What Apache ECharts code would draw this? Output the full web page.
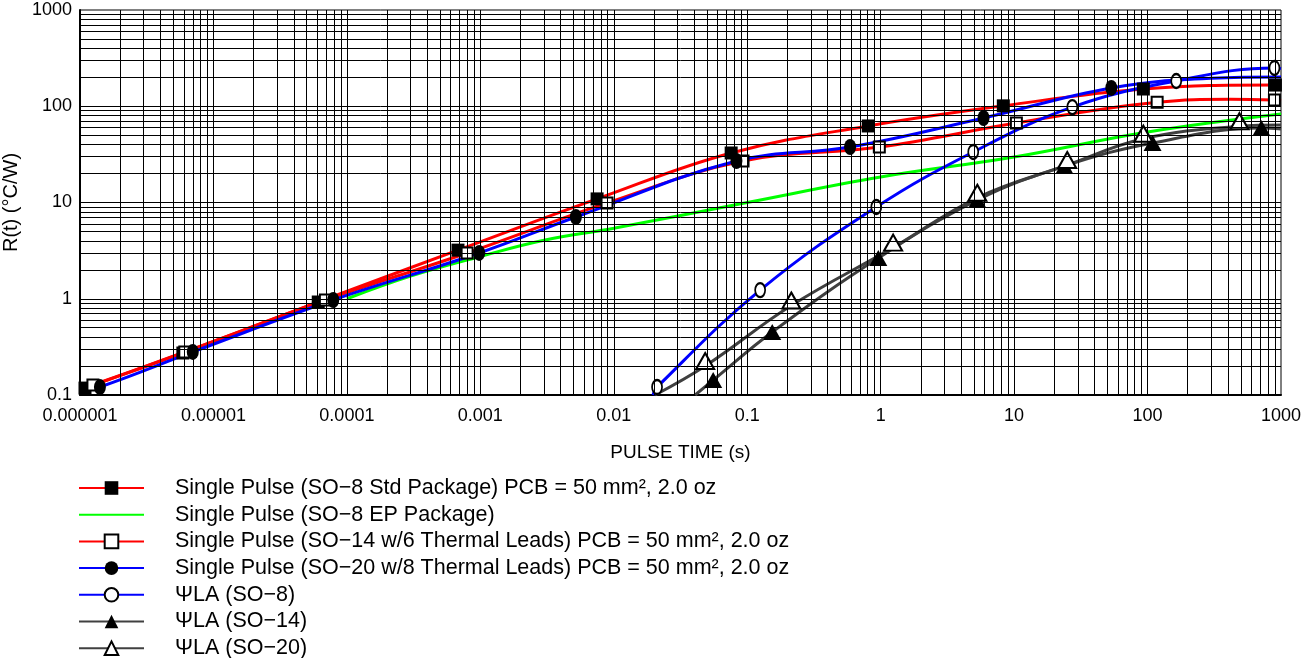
<!DOCTYPE html>
<html>
<head>
<meta charset="utf-8">
<script src="https://cdn.jsdelivr.net/npm/echarts@6/dist/echarts.min.js"></script>
<style>
html,body{margin:0;padding:0;background:#fff;}
#chart{width:1315px;height:658px;}
</style>
</head>
<body>
<div id="chart"></div>
<script>
// ---- tick labels ----
const xTickLabels = ['0.000001','0.00001','0.0001','0.001','0.01','0.1','1','10','100','1000'];
const yTickLabels = ['0.1','1','10','100','1000'];

// ---- series names ----
const seriesNames = [
  'Single Pulse (SO\u22128 Std Package) PCB = 50 mm\u00B2, 2.0 oz',
  'Single Pulse (SO\u22128 EP Package)',
  'Single Pulse (SO\u221214 w/6 Thermal Leads) PCB = 50 mm\u00B2, 2.0 oz',
  'Single Pulse (SO\u221220 w/8 Thermal Leads) PCB = 50 mm\u00B2, 2.0 oz',
  '\u03A8LA (SO\u22128)',
  '\u03A8LA (SO\u221214)',
  '\u03A8LA (SO\u221220)'
];

// ---- values: [pulse time (s), R(t) (°C/W)] ----
// marker points
const so8Std = [[1.09e-6,0.118],[5.9e-6,0.273],[6.1e-5,0.925],[6.8e-4,3.2],[7.5e-3,10.9],[0.0758,32.7],[0.807,62.4],[8.3,101],[93,151],[908,166]];
const so8StdLine = [[1e-6,0.113],[1000,166]];           // curve ends (no marker)

const so8Ep = [[1e-4,1.0],[3e-4,1.72],[1e-3,2.75],[3e-3,4.05],[0.01,5.4],[0.1,10],[1,18.4],[10,29.7],[100,54],[1000,83]];

const so14 = [[1.25e-6,0.127],[6.1e-6,0.28],[6.9e-5,0.97],[7.96e-4,2.99],[8.9e-3,9.9],[0.093,27],[0.977,37.7],[10.4,67],[118,110],[893,116]];
const so14Line = [[1e-6,0.115],[418,118],[1000,114]];

const so20 = [[1.41e-6,0.121],[7.0e-6,0.28],[7.9e-5,0.97],[9.8e-4,2.99],[5.2e-3,7.07],[0.083,27],[0.59,37.7],[5.9,75.5],[53.5,155]];
const so20Line = [[1e-6,0.111],[300,195],[1000,201]];

const psi8 = [[0.0211,0.121],[0.125,1.23],[0.927,8.98],[4.94,33.5],[27.3,98],[164,183],[893,250]];
const psi8Line = [[0.0197,0.1],[1000,246]];

const psi14 = [[0.0556,0.143],[0.154,0.452],[0.96,2.65],[5.3,10.6],[23.8,23.9],[109,41.5],[713,59.4]];
const psi14Line = [[0.0407,0.1],[1000,58]];

const psi20 = [[0.0484,0.2],[0.214,0.85],[1.24,3.4],[5.3,11.2],[25,24.5],[93,46],[488,62]];
const psi20Line = [[0.0204,0.1],[1000,64]];

// grid line positions (log decades with 2..9 subdivisions)
const xDecades = [-6,-5,-4,-3,-2,-1,0,1,2];
const yDecades = [-1,0,1,2];
const subdivisions = [1,2,3,4,5,6,7,8,9];

// ---- build ----
const FONT = '"Liberation Sans", Arial, Helvetica, sans-serif';

function buildData(marks, lineOnly) {
  const pts = marks.map(p => ({ value: p }));
  (lineOnly || []).forEach(p => pts.push({ value: p, symbol: 'none' }));
  pts.sort((a, b) => a.value[0] - b.value[0]);
  return pts;
}

const gridLineData = [];
xDecades.forEach(d => subdivisions.forEach(m => {
  const v = Number((m * Math.pow(10, d)).toPrecision(6));
  if (!(d === -6 && m === 1)) gridLineData.push({ xAxis: v });
}));
yDecades.forEach(d => subdivisions.forEach(m => {
  const v = Number((m * Math.pow(10, d)).toPrecision(6));
  if (!(d === -1 && m === 1)) gridLineData.push({ yAxis: v });
}));

function lineSeries(name, data, color, symbol, symbolSize, fill, extra) {
  let itemStyle;
  if (fill === 'open') itemStyle = { color: '#fff', borderColor: '#000', borderWidth: 2 };
  else if (fill === 'none') itemStyle = { color: 'rgba(0,0,0,0)', borderWidth: 0 };
  else itemStyle = { color: '#000', borderColor: '#000', borderWidth: 0 };
  return Object.assign({
    name: name,
    type: 'line',
    data: data,
    smooth: 0.4,
    symbol: symbol,
    symbolSize: symbolSize,
    showAllSymbol: true,
    clip: true,
    z: 3,
    lineStyle: { color: color, width: 3 },
    itemStyle: itemStyle,
    emphasis: { disabled: true }
  }, extra || {});
}

const series = [
  {
    name: 'grid', type: 'line', data: [], silent: true, z: 1,
    markLine: {
      silent: true, animation: false, symbol: ['none', 'none'], precision: 12,
      label: { show: false },
      lineStyle: { color: '#000', width: 1, type: 'solid', opacity: 1 },
      emphasis: { disabled: true },
      data: gridLineData
    }
  },
  lineSeries(seriesNames[1], buildData(so8Ep), '#00ff00', 'circle', 1, 'none', { showSymbol: false }),
  lineSeries(seriesNames[0], buildData(so8Std, so8StdLine), '#ff0000', 'rect', 13, 'filled'),
  lineSeries(seriesNames[2], buildData(so14, so14Line), '#ff0000', 'rect', 11, 'open'),
  lineSeries(seriesNames[3], buildData(so20, so20Line), '#0000ff', 'circle', [12, 16], 'filled'),
  lineSeries(seriesNames[4], buildData(psi8, psi8Line), '#0000ff', 'circle', [10, 14], 'open'),
  lineSeries(seriesNames[5], buildData(psi14, psi14Line), '#404040', 'triangle', [18, 16], 'filled'),
  lineSeries(seriesNames[6], buildData(psi20, psi20Line), '#404040', 'triangle', [18, 16], 'open', { symbolOffset: [0, -5] })
];

const chart = echarts.init(document.getElementById('chart'), null, { renderer: 'canvas' });
chart.setOption({
  animation: false,
  backgroundColor: '#fff',
  textStyle: { fontFamily: FONT },
  grid: { left: 80, right: 34, top: 10, bottom: 263, show: true, borderColor: '#000', borderWidth: 1, containLabel: false, outerBoundsMode: 'none' },
  xAxis: {
    type: 'log', logBase: 10, min: 1e-6, max: 1000, splitNumber: 9,
    axisLine: { show: true, lineStyle: { color: '#000', width: 2 } },
    axisTick: { show: false },
    splitLine: { show: false },
    minorSplitLine: { show: false },
    axisLabel: {
      showMinLabel: true, showMaxLabel: true,
      color: '#000', fontSize: 18, fontFamily: FONT, margin: 12,
      formatter: v => xTickLabels[Math.round(Math.log10(v)) + 6]
    },
    name: 'PULSE TIME (s)', nameLocation: 'middle', nameGap: 48,
    nameTextStyle: { color: '#000', fontSize: 19, fontFamily: FONT }
  },
  yAxis: {
    type: 'log', logBase: 10, min: 0.1, max: 1000, splitNumber: 4,
    axisLine: { show: true, lineStyle: { color: '#000', width: 2 } },
    axisTick: { show: false },
    splitLine: { show: false },
    axisLabel: {
      showMinLabel: true, showMaxLabel: true,
      color: '#000', fontSize: 18, fontFamily: FONT, margin: 8,
      formatter: v => yTickLabels[Math.round(Math.log10(v)) + 1]
    },
    name: 'R(t) (\u00B0C/W)', nameLocation: 'middle', nameGap: 51, nameRotate: 90,
    nameTextStyle: { color: '#000', fontSize: 20, fontFamily: FONT }
  },
  legend: {
    orient: 'vertical', left: 78, top: 477, height: 240, padding: 0,
    itemWidth: 65, itemHeight: 17, itemGap: 4.7,
    selectedMode: false,
    data: seriesNames,
    textStyle: { color: '#000', fontSize: 21.5, fontFamily: FONT, padding: [0, 0, 0, 26] }
  },
  series: series
});
</script>
</body>
</html>
